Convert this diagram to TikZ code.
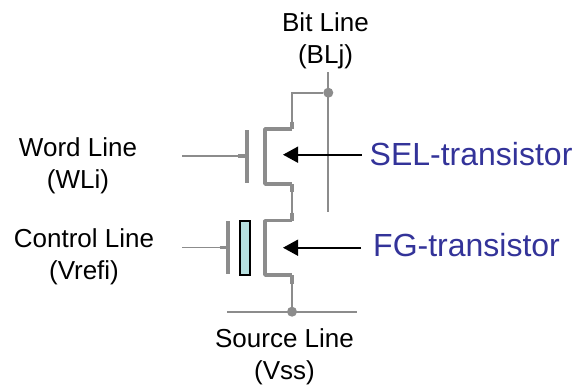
\documentclass[tikz,border=0pt]{standalone}
\usepackage{fontspec}
\setmainfont{Liberation Sans}
\usetikzlibrary{arrows.meta}
\definecolor{wire}{HTML}{8C8C8C}
\definecolor{labelblue}{HTML}{333399}
\definecolor{fgfill}{HTML}{B7E0E0}
\tikzset{
  thinwire/.style={draw=wire,line width=1.8pt},
  thickwire/.style={draw=wire,line width=3.4pt},
  plate/.style={draw=wire,line width=3.8pt},
  dot/.style={circle,fill=wire,inner sep=0pt,minimum size=10pt},
  lbl/.style={font=\fontsize{26}{32}\selectfont,align=center,text=black,inner sep=0pt},
  tlbl/.style={font=\fontsize{32}{38}\selectfont,text=labelblue,inner sep=0pt,anchor=base west},
  pointer/.style={draw=black,line width=1.6pt,-{Triangle[length=15pt,width=16pt]}}
}
\begin{document}
\begin{tikzpicture}[x=1pt,y=-1pt]
\useasboundingbox (0,0) rectangle (572,386);
% labels
\node[lbl] (bit) at (325.5,40.5) {Bit Line\\(BLj)};
\node[lbl] (word) at (78,165.5) {Word Line\\(WLi)};
\node[lbl] (ctrl) at (84,256.5) {Control Line\\(Vrefi)};
\node[lbl] (src) at (284.5,357) {Source Line\\(Vss)};
\node[tlbl] (sel) at (369.5,165) {SEL-transistor};
\node[tlbl] (fg) at (373,256) {FG-transistor};
% coordinates
\coordinate (bltop) at (328.3,72);
\coordinate (blbot) at (328.3,212);
\node[dot] (bldot) at (328.3,92.7) {};
\node[dot] (srcdot) at (292,311.7) {};
\coordinate (srcl) at (227,311.7);
\coordinate (srcr) at (357,311.7);
\coordinate (sdrain) at (292,129);
\coordinate (ssource) at (292,184);
\coordinate (fdrain) at (292,220.7);
\coordinate (fsource) at (292,275);
\coordinate (schtl) at (265,129);
\coordinate (schbl) at (265,184);
\coordinate (fchtl) at (265,220.7);
\coordinate (fchbl) at (265,275);
\coordinate (sgate) at (246.7,156);
\coordinate (sin) at (182,156);
\coordinate (fgate) at (228,247.5);
\coordinate (fin) at (182,247.5);
\coordinate (sptip) at (283,154.7);
\coordinate (sptail) at (361.6,154.7);
\coordinate (fptip) at (283,247.7);
\coordinate (fptail) at (361,247.7);
% bit and source lines
\draw[thinwire] (bltop) -- (blbot);
\draw[thinwire] (srcl) -- (srcr);
% drain / source wires
\draw[thinwire] (bldot) -| (sdrain);
\draw[thinwire] (ssource) -- (fdrain);
\draw[thinwire] (fsource) -- (srcdot);
% stubs
\draw[thickwire] (292,121.5) -- (sdrain);
\draw[thickwire] (ssource) -- (292,192);
\draw[thickwire] (292,212.5) -- (fdrain);
\draw[thickwire] (fsource) -- (292,284);
% channels
\draw[thickwire,line join=round] (sdrain) -- (schtl) -- (schbl) -- (ssource);
\draw[thickwire,line join=round] (fdrain) -- (fchtl) -- (fchbl) -- (fsource);
% gates
\draw[plate] (246.7,130) -- (246.7,183);
\draw[plate] (228,221) -- (228,274);
\draw[thinwire] (sin) -- (sgate);
\draw[thinwire] (fin) -- (fgate);
\draw[thickwire] (238,156) -- (sgate);
\draw[thickwire] (219.5,247.5) -- (fgate);
% floating gate
\node[draw=black,line width=1.3pt,fill=fgfill,minimum width=10pt,minimum height=54pt,inner sep=0pt] (fgbox) at (245,248) {};
% pointers
\draw[pointer] (sptail) -- (sptip);
\draw[pointer] (fptail) -- (fptip);
\end{tikzpicture}
\end{document}
